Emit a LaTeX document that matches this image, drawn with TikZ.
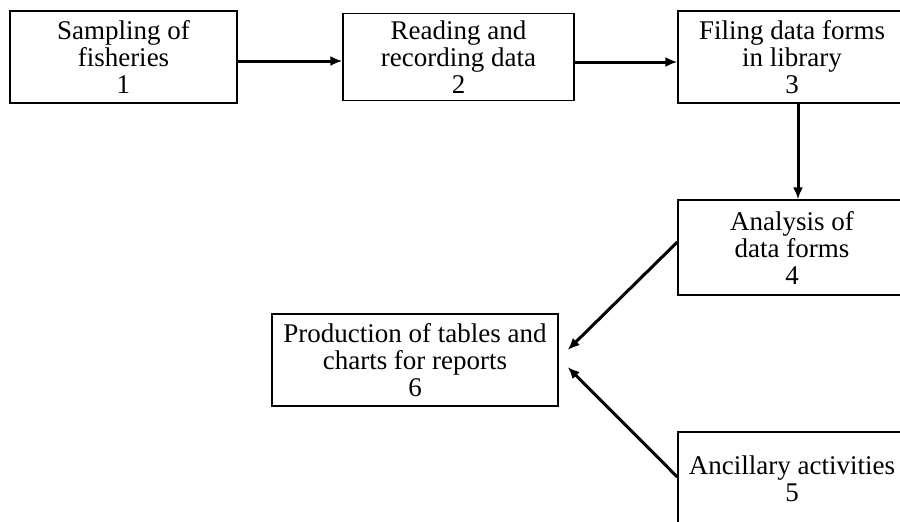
\documentclass[tikz,border=0pt]{standalone}
\usepackage{fontspec}
\setmainfont{Liberation Serif}
\usetikzlibrary{arrows.meta}
\begin{document}
\begin{tikzpicture}[x=1pt,y=-1pt,
  stage/.style={draw, line width=1.3pt, rectangle, align=center, inner sep=0pt,
    minimum width=228pt, minimum height=92pt,
    font=\fontsize{27}{27}\selectfont},
  flow/.style={line width=3pt, -{Latex[length=12pt,width=10pt]}}]
\useasboundingbox (0,0) rectangle (900,522);
\clip (0,0) rectangle (900,522);
\fill[white] (0,0) rectangle (900,522);

% process stages
\node[stage, minimum width=227pt] (s1) at (123.5,57) {Sampling of\\fisheries\\1};
\node[stage, minimum width=231pt, minimum height=87pt] (s2) at (458.5,57) {Reading and\\recording data\\2};
\node[stage] (s3) at (792,57) {Filing data forms\\in library\\3};
\node[stage, minimum height=95pt] (s4) at (792,247.5) {Analysis of\\data forms\\4};
\node[stage, minimum width=286pt] (s6) at (415,360) {Production of tables and\\charts for reports\\6};
\node[stage, minimum height=94pt] (s5) at (792,479) {Ancillary activities\\5};

% flow between stages
\draw[flow] ([yshift=-4pt]s1.east) -- ([yshift=-4pt]s1.east -| s2.west);
\draw[flow] ([yshift=-5pt]s2.east) -- ([yshift=-5pt]s2.east -| s3.west);
\draw[flow] ([xshift=6pt]s3.south) -- ([xshift=6pt]s4.north);
\draw[flow] ([yshift=5.5pt]s4.west) -- ([xshift=9pt,yshift=10pt]s6.east);
\draw[flow] ([yshift=2pt]s5.west) -- ([xshift=9pt,yshift=-7pt]s6.east);
\end{tikzpicture}
\end{document}
